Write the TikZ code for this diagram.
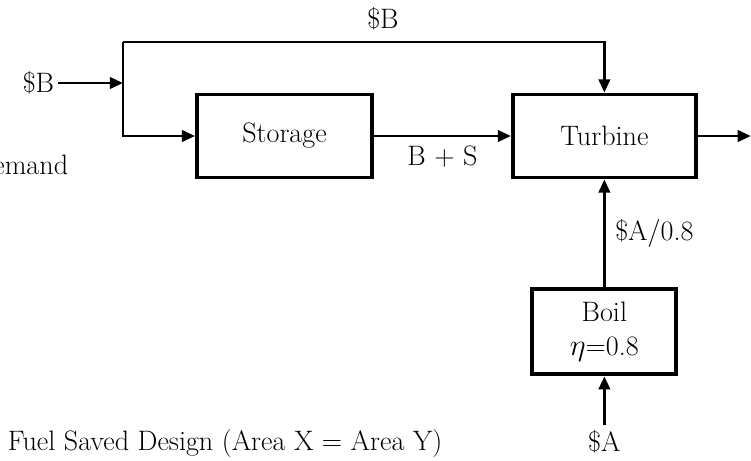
\documentclass[tikz,border=0pt]{standalone}
\usepackage{tikz}
\usetikzlibrary{positioning,arrows.meta}

\begin{document}
\begin{tikzpicture}[font=\fontsize{16}{19}\selectfont,
  blk/.style={draw,line width=2.2pt,minimum height=1.66cm,align=center,inner sep=3pt},
  lbl/.style={inner sep=2pt,align=center},
  ln/.style={line width=1.6pt},
  arr/.style={-{Triangle[length=7.5pt,width=6.5pt]},line width=1.6pt}]
\useasboundingbox (0,0) rectangle (15.02,-9.2);
\node[blk,minimum width=3.5cm] (sto) at (5.69,-2.72) {Storage};
\node[blk,minimum width=3.66cm,right=2.74cm of sto] (tur) {Turbine};
\node[blk,minimum width=2.88cm,minimum height=1.7cm,below=2.16cm of tur] (boil) {Boil\\$\eta$=0.8};
\coordinate (jn) at (2.46,-1.66);
\coordinate (tl) at (2.46,-0.84);
\coordinate[right=1.06cm of tur] (out);
\coordinate[below=0.98cm of boil] (ain);
\node[lbl,left=1.3cm of jn] (bin) {\$B};
\node[lbl,below=0.02cm of ain] (alab) {\$A};
\node[lbl,anchor=east] (dem) at (1.44,-3.3) {Demand};
\node[lbl,anchor=west] (cap) at (0.08,-8.86) {Fuel Saved Design (Area X = Area Y)};
\draw[arr] (bin) -- (jn);
\draw[ln] (jn) -- (tl);
\draw[arr] (tl) -| node[pos=0.27,above=0.14cm,lbl]{\$B} (tur);
\draw[arr] (jn) |- (sto);
\draw[arr] (sto) -- node[below=0.1cm,lbl]{B + S} (tur);
\draw[arr] (tur) -- (out);
\draw[arr] (boil) -- node[right=0.12cm,lbl]{\$A/0.8} (tur);
\draw[arr] (ain) -- (boil);
\end{tikzpicture}
\end{document}
